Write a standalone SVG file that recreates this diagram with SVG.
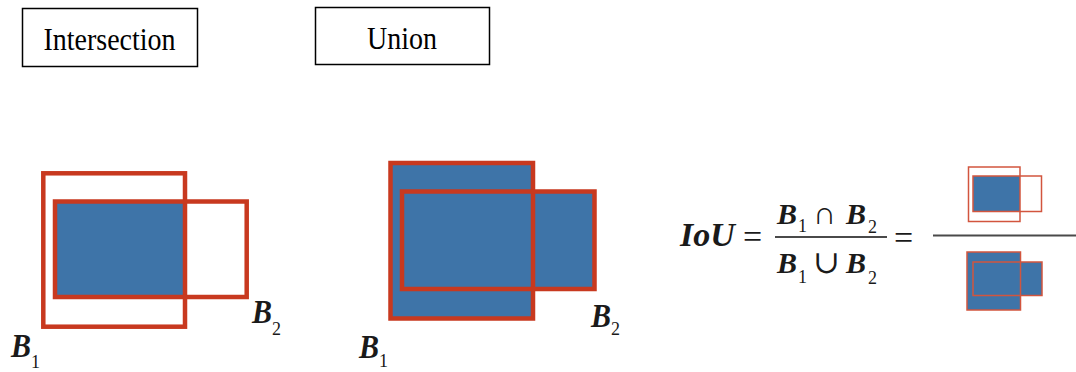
<svg xmlns="http://www.w3.org/2000/svg" width="1076" height="372" viewBox="0 0 1076 372">
<style>
.bg{fill:#ffffff}
.title{fill:#ffffff;stroke:#000000;stroke-width:1.5}
.tt{font-family:"Liberation Serif","Times New Roman",serif;font-size:28px;fill:#000000;text-anchor:middle}
.box{fill:none;stroke:#c8391f;stroke-width:4.5}
.fill{fill:#3e74a8;stroke:none}
.thin{fill:none;stroke:#d2553e;stroke-width:1.5}
.lbl{font-family:"Liberation Serif","Times New Roman",serif;font-weight:bold;font-style:italic;font-size:30px;fill:#1a1a1a}
.sub{font-family:"Liberation Serif","Times New Roman",serif;font-size:18px;fill:#1a1a1a}
.mb{font-family:"Liberation Serif","Times New Roman",serif;font-weight:bold;font-style:italic;font-size:30px;fill:#1a1a1a}
.op{font-family:"Liberation Serif","DejaVu Serif",serif;font-size:32px;fill:#1a1a1a}
.bar{stroke:#4a4a4a;stroke-width:2}
</style>
<rect class="bg" x="0" y="0" width="1076" height="372"/>

<g id="title-intersection">
<rect class="title" x="22.5" y="8.5" width="175" height="58"/>
<text class="tt" transform="translate(109.5,49.5) scale(1,1.12)" x="0" y="0">Intersection</text>
</g>

<g id="title-union">
<rect class="title" x="315.5" y="7.5" width="174" height="57"/>
<text class="tt" transform="translate(402,48.5) scale(1,1.12)" x="0" y="0">Union</text>
</g>

<g id="intersection-diagram">
<rect class="fill" x="55" y="201.5" width="130" height="95.5"/>
<rect class="box" x="43.3" y="173.3" width="141.7" height="153.4"/>
<rect class="box" x="55" y="201.5" width="191.7" height="95.5"/>
<text class="lbl" transform="translate(11,357) scale(1,1.12)" x="0" y="0">B</text><text class="sub" x="31" y="368">1</text>
<text class="lbl" transform="translate(252,323) scale(1,1.12)" x="0" y="0">B</text><text class="sub" x="272" y="335">2</text>
</g>

<g id="union-diagram">
<rect class="fill" x="390.5" y="163" width="142.5" height="155.5"/>
<rect class="fill" x="402" y="191.5" width="192.5" height="97.5"/>
<rect class="box" x="390.5" y="163" width="142.5" height="155.5"/>
<rect class="box" x="402" y="191.5" width="192.5" height="97.5"/>
<text class="lbl" transform="translate(359,358) scale(1,1.12)" x="0" y="0">B</text><text class="sub" x="379" y="367">1</text>
<text class="lbl" transform="translate(591,327) scale(1,1.12)" x="0" y="0">B</text><text class="sub" x="611" y="335">2</text>
</g>

<g id="formula">
<text class="mb" x="680" y="246" style="font-size:34px">IoU</text>
<text class="op" x="743" y="248" style="font-size:34px">=</text>
<text class="mb" x="777" y="224">B</text><text class="sub" x="798" y="231.5">1</text>
<text class="op" x="813" y="224">∩</text>
<text class="mb" x="846" y="224">B</text><text class="sub" x="868" y="233">2</text>
<line class="bar" x1="775" y1="237" x2="887" y2="237"/>
<text class="mb" x="777" y="273">B</text><text class="sub" x="798" y="283">1</text>
<text class="op" x="813" y="273">∪</text>
<text class="mb" x="846" y="273">B</text><text class="sub" x="868" y="284">2</text>
<text class="op" x="894" y="249" style="font-size:34px">=</text>
</g>

<g id="iou-fraction">
<rect class="fill" x="973" y="176" width="47" height="35.5"/>
<rect class="thin" x="968.5" y="167" width="51.5" height="54.5"/>
<rect class="thin" x="973" y="176" width="68.5" height="35.5"/>
<line class="bar" x1="933" y1="235.5" x2="1076" y2="235.5"/>
<rect class="fill" x="967" y="252" width="53.5" height="58"/>
<rect class="fill" x="973" y="262" width="69" height="33.5"/>
<rect class="thin" x="967" y="252" width="53.5" height="58"/>
<rect class="thin" x="973" y="262" width="69" height="33.5"/>
</g>
</svg>
